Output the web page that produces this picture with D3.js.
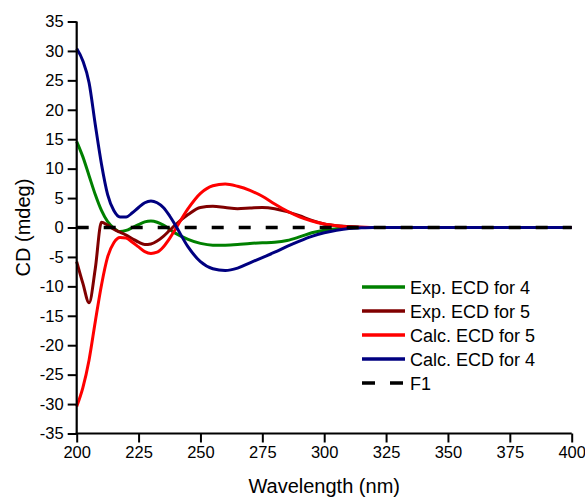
<!DOCTYPE html>
<html>
<head>
<meta charset="utf-8">
<script src="https://cdn.jsdelivr.net/npm/d3@7"></script>
<style>
  body { margin: 0; background: #fff; }
  text { font-family: Arial, "Liberation Sans", sans-serif; fill: #000; }
</style>
</head>
<body>
<div id="graf"></div>
<script>
// Datos
const wavelength = [200, 202.5, 205, 207.5, 210, 212.5, 215, 217.5, 220, 222.5, 225, 227.5, 230, 232.5, 235, 237.5, 240,
  245, 250, 255, 260, 265, 270, 275, 280, 285, 290, 295, 300, 305, 310, 315, 320, 330, 340, 360, 380, 400]
const expEcd4 = [14.6, 12.0, 8.8, 5.6, 2.9, 1.0, -0.1, -0.7, -0.5, 0.0, 0.5, 0.95, 1.1, 0.9, 0.4, -0.3, -1.0,
  -2.0, -2.7, -3.0, -3.0, -2.9, -2.7, -2.6, -2.5, -2.2, -1.6, -0.9, -0.45, -0.2, -0.1, 0, 0, 0, 0, 0, 0, 0]
const expEcd5 = [-5.8, -9.5, -12.8, -7.0, 0.9, 0.4, -0.3, -0.8, -1.3, -1.9, -2.5, -2.9, -2.8, -2.3, -1.5, -0.5, 0.5,
  2.2, 3.4, 3.6, 3.4, 3.2, 3.3, 3.4, 3.2, 2.7, 2.0, 1.2, 0.6, 0.3, 0.15, 0.05, 0, 0, 0, 0, 0, 0]
const calcEcd5 = [-30.4, -27.2, -22.5, -16.0, -9.8, -5.0, -2.6, -1.7, -1.8, -2.5, -3.3, -4.1, -4.4, -4.2, -3.3, -1.9, -0.2,
  3.2, 5.8, 7.1, 7.4, 7.0, 6.3, 5.3, 4.0, 2.8, 1.8, 1.1, 0.6, 0.3, 0.1, 0.05, 0, 0, 0, 0, 0, 0]
const calcEcd4 = [30.4, 28.3, 24.6, 17.5, 10.8, 5.6, 2.9, 1.8, 1.8, 2.5, 3.4, 4.2, 4.5, 4.2, 3.4, 2.0, 0.3,
  -3.3, -5.8, -7.0, -7.3, -6.9, -6.0, -5.1, -4.2, -3.2, -2.3, -1.5, -0.9, -0.45, -0.15, -0.05, 0, 0, 0, 0, 0, 0]
const f1 = wavelength.map(() => 0)

const seriesNames = ['Exp. ECD for 4', 'Exp. ECD for 5', 'Calc. ECD for 5', 'Calc. ECD for 4', 'F1']
const seriesValues = [expEcd4, expEcd5, calcEcd5, calcEcd4, f1]
const seriesColors = ['#008000', '#800000', '#ff0000', '#000080', '#000000']

const xTicks = [200, 225, 250, 275, 300, 325, 350, 375, 400]
const yTicks = [-35, -30, -25, -20, -15, -10, -5, 0, 5, 10, 15, 20, 25, 30, 35]

const ancho_total = 585, alto_total = 497
const margins = { top: 21.5, left: 76.7, right: 13.3, bottom: 63.5 }
const ancho = ancho_total - margins.left - margins.right
const alto = alto_total - margins.top - margins.bottom

const svg = d3.select('#graf').append('svg')
  .attr('width', ancho_total)
  .attr('height', alto_total)

const g = svg.append('g')
  .attr('transform', `translate(${margins.left}, ${margins.top})`)

// Escaladores
const x = d3.scaleLinear().domain([200, 400]).range([0, ancho])
const y = d3.scaleLinear().domain([-35, 35]).range([alto, 0])

// Curvas
const lineaGen = d3.line()
  .x(d => x(d[0]))
  .y(d => y(d[1]))
  .curve(d3.curveMonotoneX)

seriesValues.forEach((vals, i) => {
  const pts = wavelength.map((w, j) => [w, vals[j]])
  g.append('path')
    .attr('d', lineaGen(pts))
    .attr('fill', 'none')
    .attr('stroke', seriesColors[i])
    .attr('stroke-width', i == 4 ? 3.5 : 3)
    .attr('stroke-dasharray', i == 4 ? '12,15' : null)
})

// Ejes (guion normal en los negativos, como el original)
const fmt = d => String(d)
const xMinor = d3.range(200, 401, 12.5).filter(v => !xTicks.includes(v))
const yMinor = d3.range(-35, 36, 2.5).filter(v => !yTicks.includes(v))

const xAxis = g.append('g').attr('transform', `translate(0, ${alto})`)
xAxis.call(d3.axisBottom(x).tickValues(xMinor).tickSize(5).tickFormat(''))
xAxis.call(d3.axisBottom(x).tickValues(xTicks).tickSize(9).tickPadding(4).tickFormat(fmt))
const yAxis = g.append('g')
yAxis.call(d3.axisLeft(y).tickValues(yMinor).tickSize(5).tickFormat(''))
yAxis.call(d3.axisLeft(y).tickValues(yTicks).tickSize(9).tickPadding(4).tickFormat(fmt))

g.selectAll('.domain').attr('stroke-width', 2.2)
g.selectAll('.tick line').attr('stroke-width', 2)
g.selectAll('.tick text').style('font-size', '16.5px').style('font-family', 'Arial, "Liberation Sans", sans-serif')
yAxis.selectAll('.domain').attr('d', `M0,${alto + 1}V0`)
xAxis.selectAll('.domain').attr('d', `M-1,0H${ancho}`)

// Titulos de ejes
svg.append('text')
  .attr('x', margins.left + ancho / 2)
  .attr('y', 493)
  .attr('text-anchor', 'middle')
  .style('font-size', '20px')
  .text('Wavelength (nm)')

svg.append('text')
  .attr('transform', `translate(30, ${margins.top + alto / 2}) rotate(-90)`)
  .attr('text-anchor', 'middle')
  .style('font-size', '20px')
  .text('CD (mdeg)')

// Leyenda
const leyenda = svg.append('g').attr('transform', 'translate(362, 287)')
seriesNames.forEach((name, i) => {
  const row = leyenda.append('g').attr('transform', `translate(0, ${i * 24})`)
  row.append('line')
    .attr('x1', 0).attr('x2', 43)
    .attr('stroke', seriesColors[i])
    .attr('stroke-width', 3.5)
    .attr('stroke-dasharray', i == 4 ? '13,15' : null)
  row.append('text')
    .attr('x', 48)
    .attr('y', 6.5)
    .style('font-size', '18px')
    .text(name)
})
</script>
</body>
</html>
